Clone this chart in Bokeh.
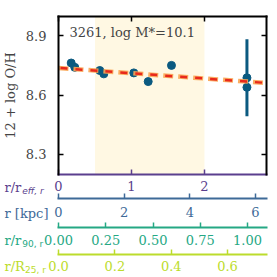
from bokeh.plotting import figure
from bokeh.models import (Range1d, LinearAxis, FixedTicker, BoxAnnotation, Label,
                          NumeralTickFormatter)
from bokeh.embed import file_html
from bokeh.resources import INLINE

# ---- data ----
galaxy_id = "3261"
log_mstar = "10.1"
r_reff = [0.174, 0.223, 0.566, 0.621, 1.032, 1.229, 1.548, 2.582, 2.582]
oh = [8.762, 8.740, 8.724, 8.707, 8.712, 8.668, 8.750, 8.687, 8.639]
oh_err = [0.0, 0.0, 0.0, 0.0, 0.0, 0.0, 0.0, 0.195, 0.0]
fit_x = [0.0, 2.85]
fit_y = [8.737, 8.661]
shade_lo, shade_hi = 0.5, 2.0
x_max = 2.85
y_min, y_max = 8.2, 9.0
kpc_per_reff = 2.224
r90_per_reff = 0.386
r25_per_reff = 0.259
y_ticks = [8.3, 8.6, 8.9]
reff_ticks = [0, 1, 2]
kpc_ticks = [0, 2, 4, 6]
r90_ticks = [0, 0.25, 0.5, 0.75, 1.0]
r25_ticks = [0, 0.2, 0.4, 0.6]
scale_main = ["r/r", "r [kpc]", "r/r", "r/R"]
scale_sub = ["eff, r", "", "90, r", "25, r"]

# ---- styling / layout (pixels) ----
FONT = "DejaVu Serif"
PURPLE = "#5b3f8e"
BLUE = "#3e6a98"
TEAL = "#25a884"
LIME = "#bcdc2c"
PT = "#0b5a80"
W, H = 277, 277          # whole canvas (frame fills it)
PX0, PX1 = 58, 266       # plot box left/right inside canvas
PY0, PY1 = 15.5, 173.5   # plot box top/bottom inside canvas
kx = (PX1 - PX0) / x_max
ky = (PY1 - PY0) / (y_max - y_min)
x_lo = -PX0 / kx
x_hi = x_max + (W - PX1) / kx
y_hi = y_max + PY0 / ky
y_lo = y_min - (H - PY1) / ky

p = figure(frame_width=W, frame_height=H,
           x_range=Range1d(x_lo, x_hi), y_range=Range1d(y_lo, y_hi),
           output_backend="svg", toolbar_location=None,
           x_axis_location=None, y_axis_location=None,
           min_border_left=0, min_border_right=0, min_border_top=0, min_border_bottom=0)
p.grid.visible = False
p.outline_line_color = None
p.background_fill_color = "white"
p.border_fill_color = "white"

# shaded region and data
p.add_layout(BoxAnnotation(left=shade_lo, right=shade_hi, bottom=y_min, top=y_max,
                           fill_color="#fff8e3", fill_alpha=1.0, line_color=None,
                           level="underlay"))
ex = [x for x, e in zip(r_reff, oh_err) if e > 0]
ey0 = [y - e for y, e in zip(oh, oh_err) if e > 0]
ey1 = [y + e for y, e in zip(oh, oh_err) if e > 0]
p.segment(x0=ex, y0=ey0, x1=ex, y1=ey1, line_color=PT, line_width=3)
p.scatter(x=r_reff, y=oh, size=8, fill_color=PT, line_color=PT)
p.line(x=fit_x, y=fit_y, line_color="#f9a552", line_width=4.5, line_dash="10 5", line_alpha=0.9)
p.line(x=fit_x, y=fit_y, line_color="#e8291c", line_width=2.5, line_dash="7 8",
       line_dash_offset=13)

ex_x = 1 / kx
ex_y = 1 / ky

# left y axis
ya = LinearAxis(fixed_location=0, bounds=(y_min - ex_y, y_max + ex_y),
                ticker=FixedTicker(ticks=y_ticks), formatter=NumeralTickFormatter(format="0.0"),
                axis_label="12 + log O/H", axis_label_text_font=FONT,
                axis_label_text_font_size="13px", axis_label_text_font_style="normal",
                axis_label_standoff=5, major_label_text_font=FONT,
                major_label_text_font_size="13px", major_label_standoff=12,
                major_tick_in=5, major_tick_out=0, major_tick_line_width=1.5,
                minor_tick_line_color=None, axis_line_width=2)
p.add_layout(ya, "left")

def blank_axis(ticks, loc, bounds, color="black"):
    return LinearAxis(fixed_location=loc, bounds=bounds, ticker=FixedTicker(ticks=ticks),
                      major_label_overrides={t: "" for t in ticks},
                      major_label_standoff=0, major_tick_in=5, major_tick_out=0,
                      major_tick_line_width=1.5, major_tick_line_color=color,
                      axis_line_color=color, minor_tick_line_color=None,
                      axis_line_width=2)

p.add_layout(blank_axis(y_ticks, x_max, (y_min - ex_y, y_max + ex_y)), "right")
p.add_layout(blank_axis(reff_ticks, y_max, (-ex_x, x_max + ex_x)), "above")

# secondary scales along the bottom
p.extra_x_ranges = {
    "kpc": Range1d(x_lo * kpc_per_reff, x_hi * kpc_per_reff),
    "r90": Range1d(x_lo * r90_per_reff, x_hi * r90_per_reff),
    "r25": Range1d(x_lo * r25_per_reff, x_hi * r25_per_reff),
}
scales = [
    ("default", 1.0, reff_ticks, PURPLE, "0"),
    ("kpc", kpc_per_reff, kpc_ticks, BLUE, "0"),
    ("r90", r90_per_reff, r90_ticks, TEAL, "0.00"),
    ("r25", r25_per_reff, r25_ticks, LIME, "0.0"),
]
line_px = [173.5, 198, 227, 254]    # axis line rows (canvas px from top)
standoff = [7, 8, 7, 6]
label_mid = [187, 213, 240, 266]    # centre of the scale names (canvas px)
main_w = [16.8, 44.1, 16.8, 19.6]
sub_size = [9, 9, 9, 9]
LX = 4

for i, (rng, f, ticks, col, fmt) in enumerate(scales):
    yloc = y_hi - line_px[i] / ky
    ax = LinearAxis(x_range_name=rng, fixed_location=yloc,
                    bounds=(-ex_x * f, (x_max + ex_x) * f),
                    ticker=FixedTicker(ticks=ticks), formatter=NumeralTickFormatter(format=fmt),
                    axis_line_color=col, axis_line_width=2,
                    major_tick_line_color=col, major_tick_line_width=1.5,
                    major_tick_in=5, major_tick_out=0, minor_tick_line_color=None,
                    major_label_text_color=col, major_label_text_font=FONT,
                    major_label_text_font_size="13px", major_label_standoff=standoff[i])
    p.add_layout(ax, "below")
    ymid = y_hi - label_mid[i] / ky
    p.add_layout(Label(x=x_lo + LX / kx, y=ymid, text=scale_main[i], text_font=FONT,
                       text_font_size="13px", text_color=col, text_baseline="middle"))
    if scale_sub[i]:
        p.add_layout(Label(x=x_lo + (LX + main_w[i] + 1) / kx, y=ymid - 3 / ky,
                           text=scale_sub[i], text_font="DejaVu Sans",
                           text_font_size=f"{sub_size[i]}px", text_color=col,
                           text_baseline="middle",
                           text_font_style="italic" if i == 0 else "normal"))

p.add_layout(Label(x=11 / kx, y=y_max - 16 / ky, text=f"{galaxy_id}, log M*={log_mstar}",
                   text_font=FONT, text_font_size="13px", text_baseline="alphabetic"))

open("out.html", "w").write(file_html(p, INLINE))
